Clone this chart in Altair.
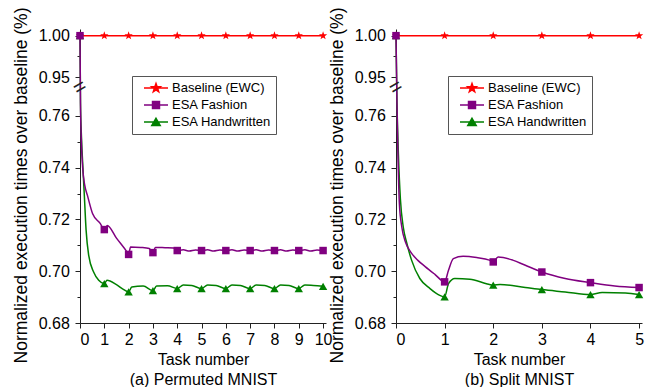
import altair as alt
import pandas as pd

SERIES = ["Baseline (EWC)", "ESA Fashion", "ESA Handwritten"]
COLORS = ["#ff0000", "#800080", "#008000"]

# ---------------- (a) Permuted MNIST ----------------
A_BASE_X = [0, 1, 2, 3, 4, 5, 6, 7, 8, 9, 10]
A_BASE_Y = [1.0, 1.0, 1.0, 1.0, 1.0, 1.0, 1.0, 1.0, 1.0, 1.0, 1.0]

A_FASH_X = [0, 0.02, 0.05, 0.11, 0.2, 0.3, 0.52, 0.83, 1, 1.12, 1.5, 1.93, 2, 2.08, 2.5,
            2.85, 3, 3.1, 3.5, 3.85, 4, 4.25, 4.5, 4.75, 5, 5.25, 5.5, 5.75, 6, 6.25, 6.5,
            6.75, 7, 7.25, 7.5, 7.75, 8, 8.25, 8.5, 8.75, 9, 9.25, 9.5, 9.75, 10]
A_FASH_Y = [1.0, 0.765, 0.752, 0.740, 0.733, 0.7295, 0.7222, 0.7185, 0.7161, 0.7177, 0.7128,
            0.7075, 0.7065, 0.7094, 0.7092, 0.7088, 0.7072, 0.7092, 0.7091, 0.7090, 0.7080,
            0.7083, 0.7078, 0.7082, 0.7080, 0.7083, 0.7078, 0.7082, 0.7080, 0.7083, 0.7078,
            0.7082, 0.7080, 0.7083, 0.7078, 0.7082, 0.7080, 0.7083, 0.7078, 0.7082, 0.7080,
            0.7083, 0.7078, 0.7082, 0.7080]

A_HAND_X = [0, 0.02, 0.06, 0.12, 0.18, 0.25, 0.36, 0.56, 0.77, 1, 1.11, 1.5, 1.8, 2, 2.13,
            2.6, 3, 3.15, 3.6, 4, 4.25, 4.6, 5, 5.25, 5.6, 6, 6.25, 6.6, 7, 7.25, 7.6, 8,
            8.25, 8.6, 9, 9.25, 9.6, 10]
A_HAND_Y = [1.0, 0.765, 0.752, 0.740, 0.729, 0.716, 0.706, 0.6997, 0.6965, 0.6952, 0.6965,
            0.6948, 0.6929, 0.6920, 0.6939, 0.6943, 0.6925, 0.6943, 0.6944, 0.6933, 0.6947,
            0.6945, 0.6933, 0.6947, 0.6945, 0.6933, 0.6947, 0.6945, 0.6933, 0.6947, 0.6945,
            0.6933, 0.6947, 0.6945, 0.6933, 0.6947, 0.6945, 0.6942]

# ---------------- (b) Split MNIST ----------------
B_BASE_X = [0, 1, 2, 3, 4, 5]
B_BASE_Y = [1.0, 1.0, 1.0, 1.0, 1.0, 1.0]

B_FASH_X = [0, 0.02, 0.04, 0.07, 0.12, 0.2, 0.3, 0.45, 0.6, 0.8, 1, 1.08, 1.18, 1.38, 1.66,
            1.92, 2, 2.1, 2.4, 2.66, 3, 3.48, 4, 4.5, 5]
B_FASH_Y = [1.0, 0.765, 0.745, 0.726, 0.717, 0.711, 0.7075, 0.7042, 0.7018, 0.6988, 0.6959,
            0.7004, 0.7049, 0.7058, 0.7053, 0.7043, 0.7036, 0.7055, 0.7043, 0.7023, 0.6997,
            0.6972, 0.6956, 0.6943, 0.6937]

B_HAND_X = [0, 0.02, 0.05, 0.09, 0.15, 0.22, 0.32, 0.49, 0.7, 0.9, 1, 1.08, 1.21, 1.52, 1.86,
            2, 2.14, 2.66, 3, 3.48, 4, 4.24, 4.72, 5]
B_HAND_Y = [1.0, 0.765, 0.745, 0.728, 0.717, 0.711, 0.7043, 0.6972, 0.6933, 0.6907, 0.6901,
            0.6952, 0.6972, 0.6969, 0.6952, 0.6946, 0.6949, 0.6937, 0.6929, 0.6920, 0.6910,
            0.6918, 0.6916, 0.6910]

Y_TICKS = [0.68, 0.69, 0.70, 0.71, 0.72, 0.73, 0.74, 0.75, 0.76, 0.95, 0.975, 1.00]
MINOR = [0.69, 0.71, 0.73, 0.75, 0.975]
Y_BREAK_DOMAIN = [0.68, 0.77, 0.94, 1.008]
Y_BREAK_VALUE = 0.855

FONT = "Liberation Sans"
PLOT_W = 246
PLOT_H = 294

STAR = ("M0,-1L0.235,-0.324L0.951,-0.309L0.380,0.124L0.588,0.809L0,0.4L-0.588,0.809"
        "L-0.380,0.124L-0.951,-0.309L-0.235,-0.324Z")
LEG_PATHS = [
    "M-2,0L2,0M0,-0.75L0.176,-0.243L0.713,-0.232L0.285,0.093L0.441,0.607L0,0.3"
    "L-0.441,0.607L-0.285,0.093L-0.713,-0.232L-0.176,-0.243Z",
    "M-2,0L2,0M-0.58,-0.58L0.58,-0.58L0.58,0.58L-0.58,0.58Z",
    "M-2,0L2,0M0,-0.62L0.7,0.58L-0.7,0.58Z",
]
MARKERS = {
    "Baseline (EWC)": (STAR, 76),
    "ESA Fashion": ("square", 56),
    "ESA Handwritten": ("triangle-up", 70),
}

minor_test = "indexof([" + ",".join(str(v) for v in MINOR) + "], datum.value) >= 0"
label_expr = minor_test + " ? '' : format(datum.value, '.2f')"


def panel(curves, xmax, xticks, caption):
    X = alt.X("x:Q",
              scale=alt.Scale(domain=[0, xmax], nice=False, zero=False),
              axis=alt.Axis(values=xticks, tickCount=30, format="d",
                            title=["Task number", caption], labelOverlap=False,
                            titleLineHeight=20, titlePadding=4, labelPadding=3, tickSize=5,
                            labelFontSize=16, titleFontSize=16, grid=False))
    Y = alt.Y("y:Q",
              scale=alt.Scale(domain=Y_BREAK_DOMAIN, range=[PLOT_H, 61.1, 56.6, 0],
                              nice=False, zero=False),
              axis=alt.Axis(values=Y_TICKS, tickCount=30, labelExpr=label_expr,
                            labelOverlap=False,
                            tickSize={"condition": {"test": minor_test, "value": 3}, "value": 5},
                            labelPadding=5.7, labelFontSize=16,
                            title="Normalized execution times over baseline (%)",
                            titleFontSize=17.5, titlePadding=7.2, titleY=156, grid=False))
    color = alt.Color("series:N", scale=alt.Scale(domain=SERIES, range=COLORS), legend=None)
    layers = []
    for name, xs, ys in curves:
        df = pd.DataFrame({"x": xs, "y": ys, "series": name})
        shape, size = MARKERS[name]
        base = alt.Chart(df)
        layers.append(base.mark_line(strokeWidth=1.5, interpolate="monotone")
                      .encode(x=X, y=Y, color=color))
        layers.append(base.transform_filter("datum.x == floor(datum.x)")
                      .mark_point(shape=shape, size=size, filled=True, opacity=1)
                      .encode(x=X, y=Y, color=color))
    brk = (alt.Chart(pd.DataFrame({"series": [SERIES[0]]}))
           .mark_text(text="=", fontSize=21, angle=330, color="#222", font=FONT)
           .encode(x=alt.datum(0), y=alt.datum(Y_BREAK_VALUE)))
    leg = alt.Legend(orient="none", legendX=52, legendY=47, title=None,
                     labelFont=FONT, labelFontSize=13, labelColor="black",
                     labelExpr="datum.label + '\u00a0\u00a0'",
                     symbolSize=144, symbolStrokeWidth=1.5, strokeColor="#555",
                     fillColor="white", padding=5, rowPadding=3, labelOffset=9,
                     symbolOffset=12)
    leg_layer = (alt.Chart(pd.DataFrame({"series": SERIES}))
                 .transform_filter("false")
                 .mark_point(filled=True, opacity=1)
                 .encode(fill=alt.Fill("series:N", scale=alt.Scale(domain=SERIES, range=COLORS), legend=leg),
                         stroke=alt.Stroke("series:N", scale=alt.Scale(domain=SERIES, range=COLORS), legend=leg),
                         shape=alt.Shape("series:N", scale=alt.Scale(domain=SERIES, range=LEG_PATHS), legend=leg)))
    return alt.layer(*layers, brk, leg_layer).properties(width=PLOT_W, height=PLOT_H)


left = panel([(SERIES[0], A_BASE_X, A_BASE_Y), (SERIES[2], A_HAND_X, A_HAND_Y),
              (SERIES[1], A_FASH_X, A_FASH_Y)], 10.12, A_BASE_X, "(a) Permuted MNIST")
right = panel([(SERIES[0], B_BASE_X, B_BASE_Y), (SERIES[2], B_HAND_X, B_HAND_Y),
               (SERIES[1], B_FASH_X, B_FASH_Y)], 5.06, B_BASE_X, "(b) Split MNIST")

chart = (alt.hconcat(left, right, spacing=-4)
         .resolve_scale(fill="independent", stroke="independent", shape="independent")
         .properties(padding={"left": 12, "right": 5, "top": 7, "bottom": 0}, background="white")
         .configure_view(stroke=None)
         .configure_axis(labelFont=FONT, titleFont=FONT, labelColor="black", titleColor="black",
                         domainColor="#222", tickColor="#222", titleFontWeight="normal",
                         domainWidth=1, tickWidth=1))

chart.save("out.html", embed_options={"renderer": "svg", "actions": False})
